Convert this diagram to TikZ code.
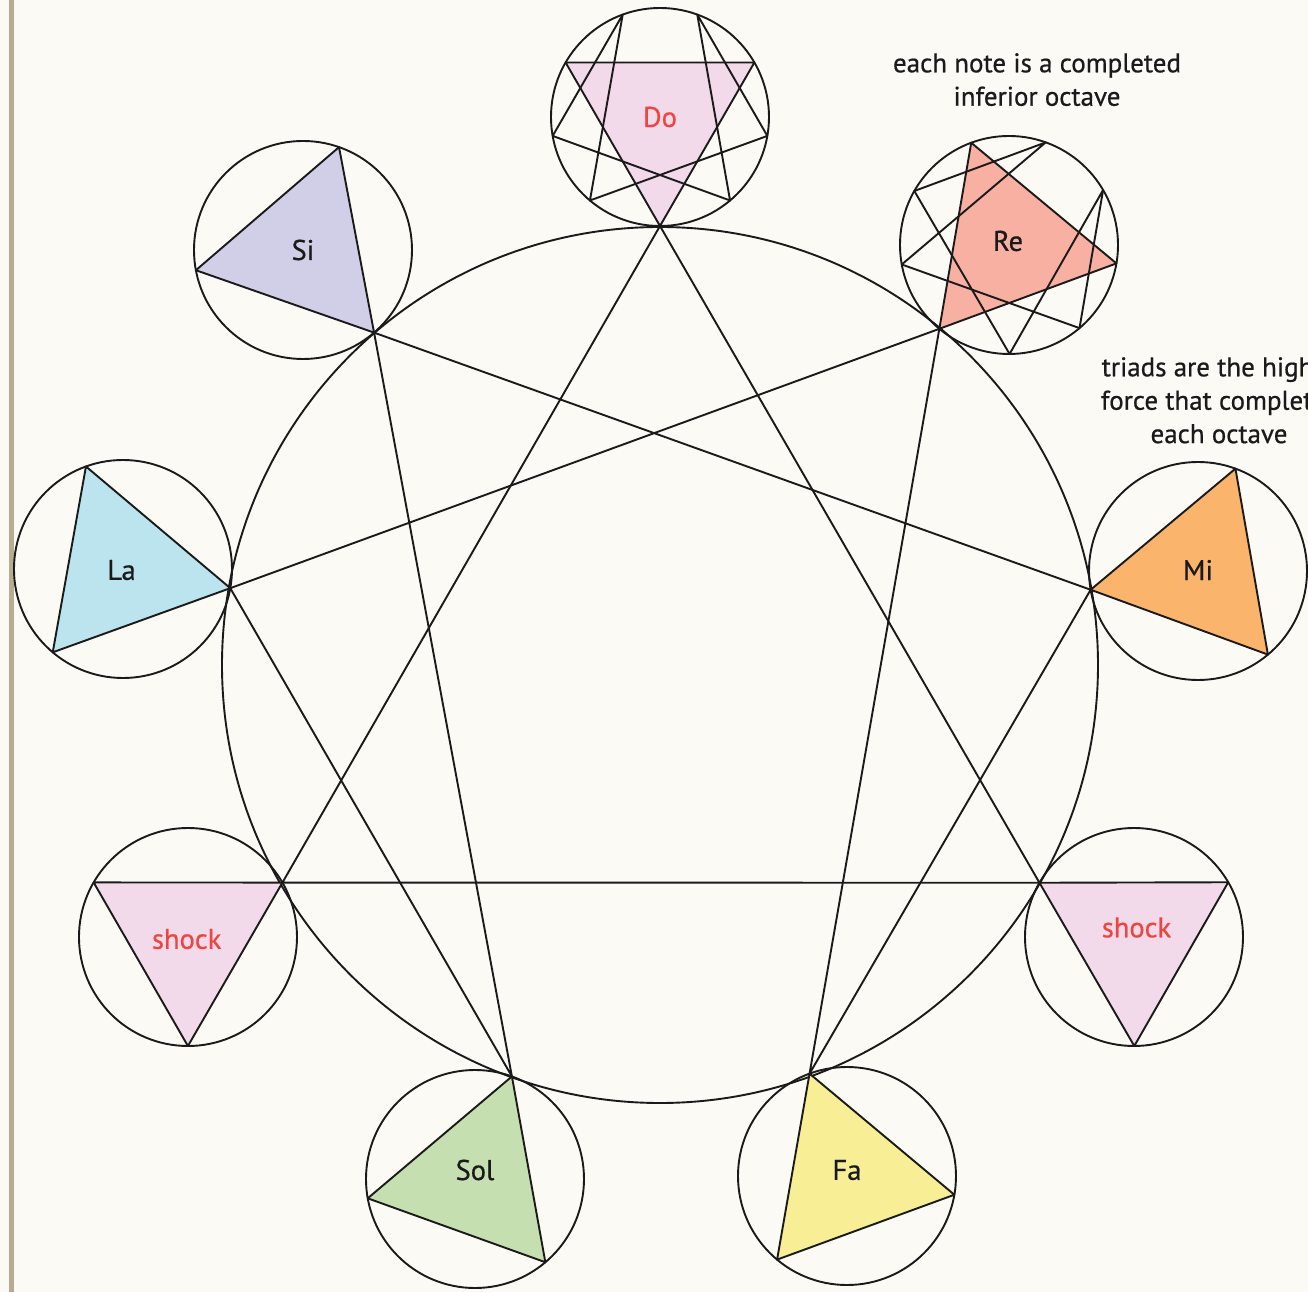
\documentclass[tikz,border=0pt]{standalone}
\usepackage{fontspec}
\setmainfont{PT Sans}[FakeBold=0.6]
\usetikzlibrary{calc}
\definecolor{bgcol}{HTML}{FCFAF5}
\definecolor{edgecol}{HTML}{B5AC92}
\definecolor{inkcol}{HTML}{1A1A1A}
\definecolor{redtxt}{HTML}{EE4540}
\definecolor{cDo}{HTML}{F3DAEA}
\definecolor{cRe}{HTML}{F8B0A2}
\definecolor{cMi}{HTML}{FBB46C}
\definecolor{cShock}{HTML}{F3DAEA}
\definecolor{cFa}{HTML}{F8EE96}
\definecolor{cSol}{HTML}{C6DFB1}
\definecolor{cLa}{HTML}{BCE4EE}
\definecolor{cSi}{HTML}{D1CEE7}
\begin{document}
\begin{tikzpicture}[x=1pt,y=1pt,
  ink/.style={draw=inkcol,line width=1.9pt,line join=round},
  notecircle/.style={ink,circle,minimum size=218pt,inner sep=0pt},
  notelabel/.style={font=\fontsize{28.5}{30}\selectfont,inner sep=0pt},
  remark/.style={font=\fontsize{27}{33.4}\selectfont,align=center,text=inkcol,inner sep=0pt,anchor=north}]
\useasboundingbox (-660,-627) rectangle (648,665);
\fill[bgcol] (-660,-627) rectangle (648,665);
\draw[edgecol,line width=5pt] (-648,-627) -- (-648,665);
\begin{scope}
\clip (-660,-627) rectangle (648,665);
% big circle
\node[ink,circle,minimum size=876pt,inner sep=0pt] (big) at (0,0) {};
% note circles (image centres) with triads
\foreach \k/\cx/\cy/\col in {0/660/117/cDo,1/1009/245/cRe,2/1198/571/cMi,3/1134/937/cShock,4/847/1176/cFa,5/475/1179/cSol,6/188/937/cShock,7/123/569/cLa,8/303/250/cSi}{
  \node[notecircle] (n\k) at (\cx-660,665-\cy) {};
  \pgfmathsetmacro\a{atan2(\cy-665,660-\cx)}
  \coordinate (p\k) at ($(n\k)+(\a:109)$);
  \filldraw[ink,fill=\col] (p\k) -- ($(n\k)+(\a+120:109)$) -- ($(n\k)+(\a-120:109)$) -- cycle;
  \coordinate (d\k) at (\a:1);
}
% enneagram on the big circle
\draw[ink] (p0) -- (p3) -- (p6) -- cycle;
\draw[ink] (p1) -- (p4) -- (p2) -- (p8) -- (p5) -- (p7) -- cycle;
% inner enneagrams of Do and Re
\foreach \k/\a in {0/270,1/230.3}{
  \foreach \j in {0,...,8} \coordinate (s\k-\j) at ($(n\k)+(\a+40*\j:109)$);
  \draw[ink] (s\k-1) -- (s\k-4) -- (s\k-2) -- (s\k-8) -- (s\k-5) -- (s\k-7) -- cycle;
}
% labels
\node[notelabel,text=redtxt] (lDo) at (0,548) {Do};
\node[notelabel,text=inkcol] (lRe) at (348,424) {Re};
\node[notelabel,text=inkcol] (lMi) at (538,95) {Mi};
\node[notelabel,text=redtxt] (lShockR) at (476.5,-262.5) {shock};
\node[notelabel,text=inkcol] (lFa) at (187,-505) {Fa};
\node[notelabel,text=inkcol] (lSol) at (-185,-505) {Sol};
\node[notelabel,text=redtxt] (lShockL) at (-473.3,-274) {shock};
\node[notelabel,text=inkcol] (lLa) at (-538.5,95) {La};
\node[notelabel,text=inkcol] (lSi) at (-357,415) {Si};
% remarks
\node[remark] (r1) at (377,612) {each note is a completed\\inferior octave};
\node[remark] (r2) at (559,308) {triads are the higher\\force that completes\\each octave};
\end{scope}
\end{tikzpicture}
\end{document}
